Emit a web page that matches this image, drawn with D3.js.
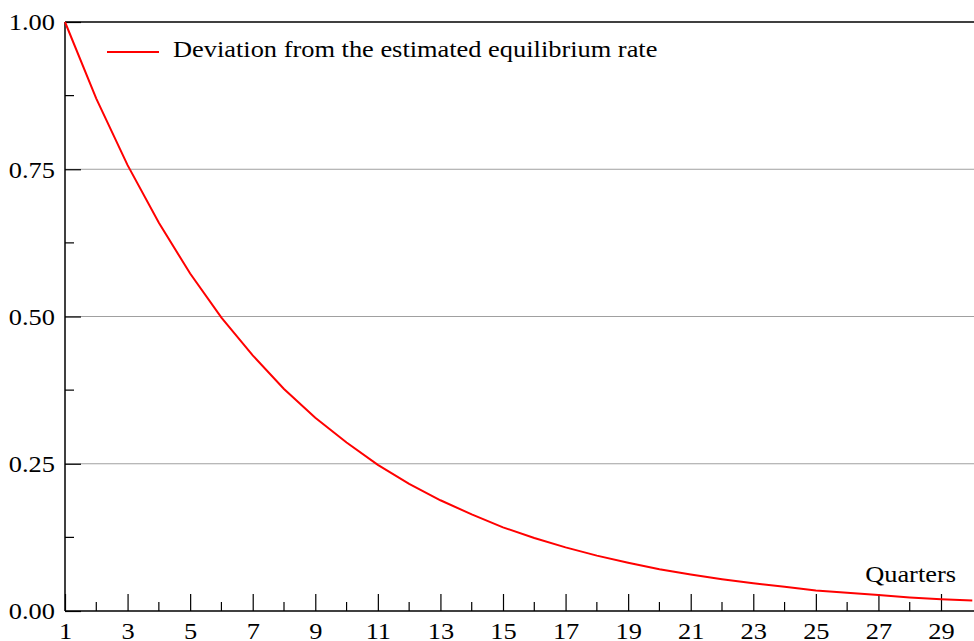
<!DOCTYPE html>
<html><head><meta charset="utf-8">
<script src="https://cdn.jsdelivr.net/npm/d3@7"></script>
<style>body{margin:0;background:#fff}svg{display:block}text{font-family:"Liberation Serif","Times New Roman",serif}</style>
</head><body>
<svg id="c" width="974" height="641"></svg>
<script>
const quarters = d3.range(1, 31);
const deviation = [1.000,0.870,0.757,0.659,0.573,0.498,0.434,0.377,0.328,0.286,
  0.248,0.216,0.188,0.164,0.142,0.124,0.108,0.094,0.082,0.071,
  0.062,0.054,0.047,0.041,0.035,0.031,0.027,0.023,0.020,0.018];
const yTicks = [0, 0.25, 0.5, 0.75, 1.0];
const yMinor = [0.125, 0.375, 0.625, 0.875];
const xTicks = [1,3,5,7,9,11,13,15,17,19,21,23,25,27,29];
const xMinor = [2,4,6,8,10,12,14,16,18,20,22,24,26,28];
const seriesName = "Deviation from the estimated equilibrium rate";
const xTitle = "Quarters";

const FS = 24, SX = 1.1;
const svg = d3.select("#c");
const L = 65, R = 974, T = 22, B = 611;
const x = d3.scaleLinear().domain([1, 29]).range([L, 941]);
const y = d3.scaleLinear().domain([0, 1]).range([B, T]);

// gridlines
svg.append("g").selectAll("line").data(yTicks.filter(d => d > 0 && d < 1)).join("line")
  .attr("x1", L).attr("x2", R).attr("y1", d => y(d)).attr("y2", d => y(d))
  .attr("stroke", "#a0a0a0").attr("stroke-width", 1);

// top border
svg.append("line").attr("x1", L).attr("x2", R).attr("y1", y(1)).attr("y2", y(1))
  .attr("stroke", "#000").attr("stroke-width", 1.3);

// y axis
const yAx = svg.append("g").attr("transform", `translate(${L},0)`);
yAx.call(d3.axisLeft(y).tickValues(yTicks).tickFormat(d3.format(".2f")).tickSize(-16).tickSizeOuter(0));
yAx.select(".domain").attr("d", `M0,${B}V${T}`).attr("stroke-width", 1.5);
yAx.selectAll(".tick text").attr("font-size", FS).attr("fill", "#000").attr("font-family", "Liberation Serif")
  .attr("x", -10 / SX).attr("dy", "0.33em").attr("transform", `scale(${SX},1)`);
yAx.selectAll(".tick line").attr("stroke-width", 1.2);
yAx.selectAll("line.minor").data(yMinor).join("line").attr("class", "minor")
  .attr("x1", 0).attr("x2", 9).attr("y1", d => y(d)).attr("y2", d => y(d))
  .attr("stroke", "#000").attr("stroke-width", 1.2);

// x axis
const xAx = svg.append("g").attr("transform", `translate(0,${B})`);
xAx.call(d3.axisBottom(x).tickValues(xTicks).tickFormat(d3.format("d")).tickSize(-17).tickPadding(11).tickSizeOuter(0));
xAx.select(".domain").attr("d", `M${L},0H${R}`).attr("stroke-width", 1.5);
xAx.selectAll(".tick text").attr("font-size", FS).attr("fill", "#000").attr("font-family", "Liberation Serif")
  .attr("dy", "0.71em").attr("transform", `scale(${SX},1)`);
xAx.selectAll(".tick line").attr("stroke-width", 1.2);
xAx.selectAll("line.minor").data(xMinor).join("line").attr("class", "minor")
  .attr("x1", d => x(d)).attr("x2", d => x(d)).attr("y1", 0).attr("y2", -9)
  .attr("stroke", "#000").attr("stroke-width", 1.2);

// line
svg.append("path").datum(quarters.map((q, i) => [q, deviation[i]]))
  .attr("fill", "none").attr("stroke", "#ff0000").attr("stroke-width", 2)
  .attr("d", d3.line().x(d => x(d[0])).y(d => y(d[1])));

// legend
svg.append("line").attr("x1", 107).attr("x2", 159).attr("y1", 52).attr("y2", 52)
  .attr("stroke", "#ff0000").attr("stroke-width", 2);
svg.append("text").attr("transform", `translate(173,57) scale(${SX},1)`).attr("font-size", FS).text(seriesName);

// x title
svg.append("text").attr("transform", `translate(956,582) scale(${SX},1)`).attr("text-anchor", "end").attr("font-size", FS).text(xTitle);
</script>
</body></html>
